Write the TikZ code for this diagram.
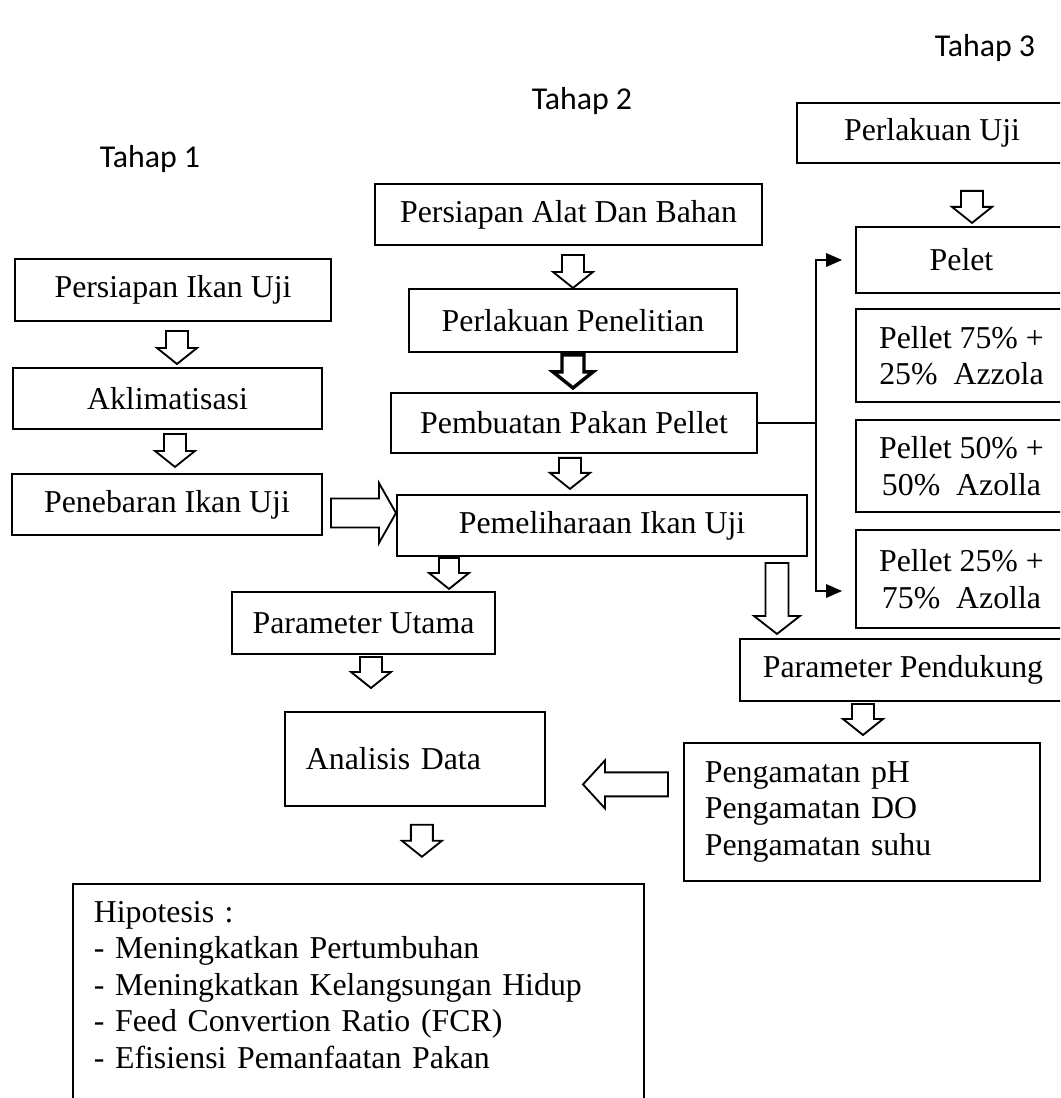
\documentclass[tikz,border=0pt]{standalone}
\usepackage{fontspec}
\setmainfont{Liberation Serif}
\newfontfamily\tahapfont{Carlito}
\usetikzlibrary{arrows.meta,calc}

\tikzset{
	box/.style={draw, line width=0.7pt, inner sep=0pt, align=center,
		font=\fontsize{12}{13.8}\selectfont},
	lbox/.style={box, align=left, inner xsep=7.9pt},
	tahap/.style={font=\tahapfont\fontsize{12}{14}\selectfont},
	fat/.style={draw, line width=0.7pt, fill=white, line join=miter},
	tri/.style={line width=0.75pt, -{Triangle[length=6pt,width=5pt]}}
}
% hollow block arrow: [style] tail, angle, length, shaft half, head half, head length
\newcommand{\fatarrow}[7][]{%
	\begin{scope}[shift={#2}, rotate=#3]
		\draw[fat,#1] (0,-#5) -- ({#4-#7},-#5) -- ({#4-#7},-#6) -- (#4,0)
			-- ({#4-#7},#6) -- ({#4-#7},#5) -- (0,#5) -- cycle;
	\end{scope}}

\begin{document}
\begin{tikzpicture}[x=0.377pt, y=-0.377pt]
	\useasboundingbox (0,0) rectangle (1060,1098);
	\clip (0,0) rectangle (1060,1098);

	\node[tahap] (tahap1) at (150,159) {Tahap 1};
	\node[tahap] (tahap2) at (582,101) {Tahap 2};
	\node[tahap] (tahap3) at (985,48) {Tahap 3};

	% tahap 1
	\node[box, minimum width=119.1pt, minimum height=23.4pt] (ikan) at (173,290) {Persiapan Ikan Uji};
	\node[box, minimum width=116.5pt, minimum height=23pt] (aklim) at (167.5,398.5) {Aklimatisasi};
	\node[box, minimum width=116.9pt, minimum height=23pt] (tebar) at (167,504.5) {Penebaran Ikan Uji};

	% tahap 2
	\node[box, minimum width=145.9pt, minimum height=23pt] (alat) at (568.5,214.5) {Persiapan Alat Dan Bahan};
	\node[box, minimum width=123.7pt, minimum height=23.75pt] (teliti) at (573,320.5) {Perlakuan Penelitian};
	\node[box, minimum width=138pt, minimum height=22.6pt] (pakan) at (574,423) {Pembuatan Pakan Pellet};
	\node[box, minimum width=154.6pt, minimum height=23pt] (pelihara) at (602,525.5) {Pemeliharaan Ikan Uji};
	\node[box, minimum width=99.2pt, minimum height=23.4pt] (utama) at (363.5,623) {Parameter Utama};
	\node[lbox, anchor=north west, text width=82.2pt, minimum height=35.4pt]
		(analisis) at (284,711) {Analisis Data};
	\node[lbox, anchor=north west, text width=199.4pt, minimum height=94pt]
		(hipo) at (72,883) {Hipotesis :\\- Meningkatkan Pertumbuhan\\
		- Meningkatkan Kelangsungan Hidup\\- Feed Convertion Ratio (FCR)\\
		- Efisiensi Pemanfaatan Pakan\\\strut};

	% tahap 3
	\node[box, minimum width=101.8pt, minimum height=22.6pt] (uji) at (932,133) {Perlakuan Uji};
	\node[box, minimum width=79.5pt, minimum height=24.9pt] (pelet) at (961.5,260) {Pelet};
	\node[box, minimum width=79.5pt, minimum height=35.1pt] (p75) at (961.5,355.5) {Pellet 75\% +\\25\%\ \ Azzola};
	\node[box, minimum width=79.5pt, minimum height=34.7pt] (p50) at (961.5,466) {Pellet 50\% +\\50\%\ \ Azolla};
	\node[box, minimum width=79.5pt, minimum height=36.9pt] (p25) at (961.5,579) {Pellet 25\% +\\75\%\ \ Azolla};
	\node[box, minimum width=122.9pt, minimum height=23.4pt] (pendukung) at (903,670) {Parameter Pendukung};
	\node[lbox, anchor=north west, text width=118.4pt, minimum height=52pt]
		(amati) at (683,742) {Pengamatan pH\\Pengamatan DO\\Pengamatan suhu};

	% pakan ke perlakuan
	\coordinate (trunk) at (816,0);
	\draw[line width=0.75pt] (pakan.east) -- (pakan.east -| trunk);
	\draw[tri] (pakan.east -| trunk) |- ($(pelet.west)+(-13,0)$);
	\draw[tri] (pakan.east -| trunk) |- ($(p25.west)+(-13,12)$);

	% block arrows
	\fatarrow{($(ikan.south)+(4,9)$)}{-90}{33}{11}{20}{16}
	\fatarrow{($(aklim.south)+(7.5,4)$)}{-90}{33}{11}{20}{16}
	\fatarrow{($(alat.south)+(4.5,9)$)}{-90}{33}{11}{20}{16}
	\fatarrow[line width=1.3pt]{($(teliti.south)+(0,2)$)}{-90}{33}{11}{20}{16}
	\fatarrow{($(pakan.south)+(-4,4)$)}{-90}{31}{11}{20}{16}
	\fatarrow{($(tebar.east)+(8,8.5)$)}{0}{65}{14.5}{30}{17}
	\fatarrow{($(pelihara.south west)+(53,1)$)}{-90}{31}{10}{20}{16}
	\fatarrow{($(pelihara.south east)+(-31,6)$)}{-90}{71}{11.5}{23}{18}
	\fatarrow{($(uji.south)+(40,27)$)}{-90}{32}{11}{20}{16}
	\fatarrow{($(utama.south)+(7.5,2)$)}{-90}{31}{11}{20}{16}
	\fatarrow{($(pendukung.south)+(-40,2)$)}{-90}{31}{11}{20}{16}
	\fatarrow{($(amati.west)+(-15,-27.5)$)}{180}{85}{12}{24}{22}
	\fatarrow{($(analisis.south)+(7,18)$)}{-90}{32}{11}{20}{16}
\end{tikzpicture}
\end{document}
